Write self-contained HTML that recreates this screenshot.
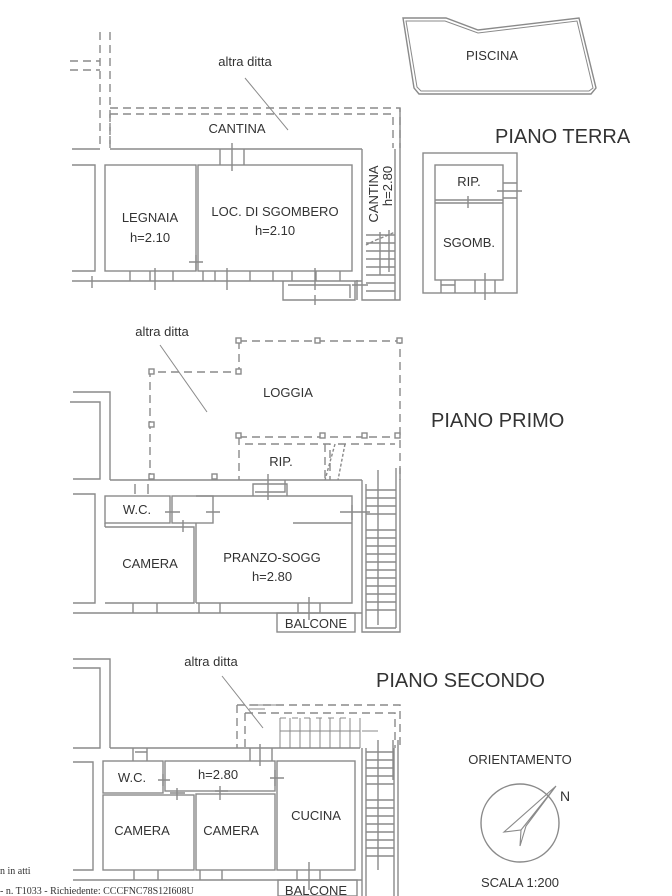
<!DOCTYPE html>
<html><head><meta charset="utf-8"><style>
html,body{margin:0;padding:0;background:#fff;}
svg{display:block;}
text{font-family:"Liberation Sans",sans-serif;fill:#333;}
</style></head><body>
<svg width="672" height="896" viewBox="0 0 672 896" xmlns="http://www.w3.org/2000/svg">
<g stroke="#8a8a8a" stroke-width="1.4" fill="none">
<!-- PIANO TERRA dashed -->
<g stroke-dasharray="8,5">
<path d="M100 32V148 M110 32V148 M70 61H100 M70 70H100"/>
<path d="M110 108H400V148 M110 114H393V148 M110 114V148"/>
</g>
<path d="M72 149H100 M110 149H362"/>
<path d="M72 165H95V271H72 M72 281H362"/>
<rect x="105" y="165" width="91" height="106"/>
<rect x="198" y="165" width="154" height="106"/>
<path d="M362 149V300H400V149 M395 149V300 M400 108V300"/>
<path d="M283 281V300H355V281 M288 285H350V298"/>
<path d="M220 149V165 M244 149V165 M232 143V171"/>
<path d="M130 271V281 M150 271V281 M173 271V281 M203 271V281 M215 271V281 M250 271V281 M273 271V281 M292 271V281 M316 271V281 M340 271V281 M189 262H203 M196 255V271 M92 276V288 M155 268V290 M227 268V290 M315 268V290 M315 295V305 M352 285H368 M357 280V300"/>
<path d="M366 235H395 M366 243H395 M366 251H395 M366 259H395 M366 267H395 M366 275H395 M366 283H395 M366 291H395 M380 232V275 M389 230V272"/>
<path d="M366 245L376 240 M376 240L386 236 M386 236L395 232" stroke-dasharray="3,2"/>
<path d="M245 78L288 130" stroke-width="1"/>
<!-- piscina -->
<path d="M403 18H446L478 30L579 18L596 88L591 94H419L414 88Z"/>
<path d="M406 21H445L478 33L577 21L593 88L589 91H421L417 87Z" stroke-width="1"/>
<!-- rip building -->
<rect x="423" y="153" width="94" height="140"/>
<rect x="435" y="165" width="68" height="115"/>
<path d="M435 200H503 M435 203H503 M468 196V208 M503 183H517 M503 198H517 M497 191H522 M441 280V293 M455 280V293 M475 280V293 M495 280V293 M485 273V300 M441 285H455"/>
<!-- PIANO PRIMO -->
<g stroke-dasharray="8,5">
<path d="M239 341H400V480 M239 341V372H150V480"/>
<path d="M239 437H400 M245 444H330V480 M239 437V480 M325 444V480 M338 444H395"/>
<path d="M335 444L325 480 M345 444L338 480" stroke-dasharray="3,2"/>
</g>
<g fill="#fff">
<rect x="236" y="338" width="5" height="5"/><rect x="315" y="338" width="5" height="5"/><rect x="397" y="338" width="5" height="5"/>
<rect x="149" y="369" width="5" height="5"/><rect x="236" y="369" width="5" height="5"/><rect x="149" y="422" width="5" height="5"/>
<rect x="149" y="474" width="5" height="5"/><rect x="212" y="474" width="5" height="5"/><rect x="236" y="433" width="5" height="5"/><rect x="320" y="433" width="5" height="5"/><rect x="362" y="433" width="5" height="5"/><rect x="395" y="433" width="5" height="5"/>
</g>
<path d="M160 345L207 412" stroke-width="1"/>
<path d="M73 392H110V480 M70 402H100V479H73 M110 480H362"/>
<path d="M73 494H95V603H73 M73 613H362"/>
<rect x="105" y="496" width="65" height="27"/>
<rect x="172" y="496" width="41" height="27"/>
<path d="M196 523V603 M196 496H352V603H196 M105 527H194V603H105 M105 527V523 M293 523H352"/>
<path d="M255 492H285V480 M253 496V484H287V496 M268 474V500 M133 603V613 M157 603V613 M199 603V613 M220 603V613 M298 603V613 M320 603V613 M309 597V620 M135 484V494 M148 484V494 M340 512H370 M352 505V520 M165 512H180 M206 512H220 M183 520V532"/>
<rect x="277" y="613" width="78" height="19"/>
<path d="M362 480V632H400V480 M366 484V628H396 M396 480V628 M366 490H396 M366 498H396 M366 506H396 M366 514H396 M366 530H396 M366 538H396 M366 546H396 M366 554H396 M366 562H396 M366 570H396 M366 578H396 M366 586H396 M366 594H396 M366 602H396 M366 610H396 M378 470V625 M396 468V505 M400 468V505"/>
<!-- PIANO SECONDO -->
<path d="M73 659H110V748 M73 668H100V748H73 M110 748H360"/>
<path d="M73 762H93V870H73 M73 880H362"/>
<rect x="103" y="761" width="60" height="32"/>
<rect x="165" y="761" width="110" height="30"/>
<rect x="103" y="795" width="91" height="75"/>
<rect x="196" y="794" width="79" height="76"/>
<rect x="277" y="761" width="78" height="109"/>
<path d="M133 748V761 M147 748V761 M135 752H147 M250 748V761 M272 748V761 M260 744V766 M134 870V880 M158 870V880 M200 870V880 M222 870V880 M297 870V880 M320 870V880 M309 862V890 M158 780H170 M163 774V786 M270 778H284 M275 770V786 M170 793H185 M177 788V800 M215 791H228 M220 786V800"/>
<rect x="278" y="880" width="79" height="16"/>
<g stroke-dasharray="8,5">
<path d="M237 705H400V748 M237 705V748 M245 713H395V748 M245 713V748"/>
</g>
<path d="M280 718V748 M290 718V748 M300 718V748 M310 718V748 M320 718V748 M330 718V748 M340 718V748 M350 718V748 M360 718V748 M280 731H360 M280 718H286 M292 718H298 M304 718H310 M316 718H322 M328 718H334 M340 718H346 M362 731H378" stroke-width="1"/>
<path d="M249 705H265 M249 709H265 M270 705H282" stroke-width="1"/>
<path d="M222 676L263 728" stroke-width="1"/>
<path d="M362 748V896 M398 748V896 M366 748V896 M394 748V896 M366 752H394 M366 760H394 M366 768H394 M366 776H394 M366 784H394 M366 800H394 M366 808H394 M366 816H394 M366 824H394 M366 832H394 M366 840H394 M366 848H394 M366 856H394 M378 740V870 M393 740V780 M398 740V780"/>
<!-- compass -->
<circle cx="520" cy="823" r="39"/>
<path d="M556 786L504 832L521 830L520 846L526 826Z M521 830L556 786" stroke-width="1.1"/>
</g>
<g font-size="13">
<text x="245" y="66" text-anchor="middle">altra ditta</text>
<text x="237" y="133" text-anchor="middle">CANTINA</text>
<text x="150" y="222" text-anchor="middle">LEGNAIA</text>
<text x="150" y="242" text-anchor="middle">h=2.10</text>
<text x="275" y="216" text-anchor="middle">LOC. DI SGOMBERO</text>
<text x="275" y="235" text-anchor="middle">h=2.10</text>
<text transform="translate(378,194) rotate(-90)" text-anchor="middle">CANTINA</text>
<text transform="translate(392,186) rotate(-90)" text-anchor="middle">h=2.80</text>
<text x="492" y="60" text-anchor="middle">PISCINA</text>
<text x="469" y="186" text-anchor="middle">RIP.</text>
<text x="469" y="247" text-anchor="middle">SGOMB.</text>
<text x="162" y="336" text-anchor="middle">altra ditta</text>
<text x="288" y="397" text-anchor="middle">LOGGIA</text>
<text x="281" y="466" text-anchor="middle">RIP.</text>
<text x="137" y="514" text-anchor="middle">W.C.</text>
<text x="150" y="568" text-anchor="middle">CAMERA</text>
<text x="272" y="562" text-anchor="middle">PRANZO-SOGG</text>
<text x="272" y="581" text-anchor="middle">h=2.80</text>
<text x="316" y="628" text-anchor="middle">BALCONE</text>
<text x="211" y="666" text-anchor="middle">altra ditta</text>
<text x="132" y="782" text-anchor="middle">W.C.</text>
<text x="218" y="779" text-anchor="middle">h=2.80</text>
<text x="142" y="835" text-anchor="middle">CAMERA</text>
<text x="231" y="835" text-anchor="middle">CAMERA</text>
<text x="316" y="820" text-anchor="middle">CUCINA</text>
<text x="316" y="895" text-anchor="middle">BALCONE</text>
<text x="520" y="764" text-anchor="middle">ORIENTAMENTO</text>
<text x="520" y="887" text-anchor="middle">SCALA 1:200</text>
<text x="560" y="801" font-size="14">N</text>
</g>
<g font-size="20">
<text x="495" y="143">PIANO TERRA</text>
<text x="431" y="427">PIANO PRIMO</text>
<text x="376" y="687">PIANO SECONDO</text>
</g>
<text x="0" y="874" font-size="10" style="font-family:'Liberation Serif',serif">n in atti</text>
<text x="0" y="894" font-size="10" style="font-family:'Liberation Serif',serif">- n. T1033 - Richiedente: CCCFNC78S12I608U</text>
</svg>
</body></html>
